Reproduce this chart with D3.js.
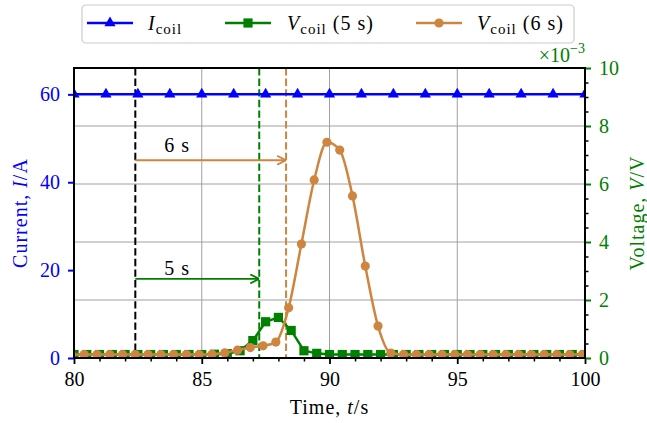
<!DOCTYPE html>
<html>
<head>
<meta charset="utf-8">
<script src="https://cdn.jsdelivr.net/npm/d3@7"></script>
<style>
  body { margin: 0; background: #fff; }
  svg { font-family: "Liberation Serif", "Times New Roman", serif; }
  .lbl { letter-spacing: 1px; }
</style>
</head>
<body>
<div id="chart"></div>
<script>
// coil current, sampled at the marker positions
const tCurrent = [80, 81.25, 82.5, 83.75, 85, 86.25, 87.5, 88.75, 90, 91.25, 92.5, 93.75, 95, 96.25, 97.5, 98.75, 100];
const iCoil = [60, 60, 60, 60, 60, 60, 60, 60, 60, 60, 60, 60, 60, 60, 60, 60, 60];

// coil voltage, 5 s run (units of 1e-3 V)
const tFive = [80, 80.5, 81, 81.5, 82, 82.5, 83, 83.5, 84, 84.5, 85, 85.5, 86, 86.5, 87, 87.5, 88, 88.5, 89, 89.5,
  90, 90.5, 91, 91.5, 92, 92.5, 93, 93.5, 94, 94.5, 95, 95.5, 96, 96.5, 97, 97.5, 98, 98.5, 99, 99.5, 100];
const vFive = [0.12, 0.12, 0.12, 0.12, 0.12, 0.12, 0.12, 0.12, 0.12, 0.12, 0.12, 0.13, 0.15, 0.25, 0.6, 1.25, 1.4, 0.95, 0.25, 0.16,
  0.12, 0.12, 0.12, 0.12, 0.12, 0.12, 0.12, 0.12, 0.12, 0.12, 0.12, 0.12, 0.12, 0.12, 0.12, 0.12, 0.12, 0.12, 0.12, 0.12, 0.12];

// coil voltage, 6 s run (units of 1e-3 V)
const tSix = [79.9, 80.4, 80.9, 81.4, 81.9, 82.4, 82.9, 83.4, 83.9, 84.4, 84.9, 85.4, 85.9, 86.4, 86.9, 87.4, 87.9, 88.4, 88.9, 89.4,
  89.9, 90.4, 90.9, 91.4, 91.9, 92.4, 92.9, 93.4, 93.9, 94.4, 94.9, 95.4, 95.9, 96.4, 96.9, 97.4, 97.9, 98.4, 98.9, 99.4, 99.9, 100.4];
const vSix = [0.12, 0.12, 0.12, 0.12, 0.12, 0.12, 0.12, 0.12, 0.12, 0.12, 0.12, 0.13, 0.18, 0.27, 0.36, 0.42, 0.55, 1.73, 3.93, 6.14,
  7.44, 7.17, 5.59, 3.17, 1.1, 0.17, 0.12, 0.12, 0.12, 0.12, 0.12, 0.12, 0.12, 0.12, 0.12, 0.12, 0.12, 0.12, 0.12, 0.12, 0.12, 0.12];

const xTicks = [80, 85, 90, 95, 100];
const iTicks = [0, 20, 40, 60];
const vTicks = [0, 2, 4, 6, 8, 10];

// delay markers
const tStart = 82.4;
const tEnd5 = 87.25;
const tEnd6 = 88.3;
const arrowI6 = 45, arrowI5 = 18;

const W = 647, H = 423;
const pL = 74, pR = 585, pT = 68, pB = 358;
const blue = '#0000ff', green = '#008000', orange = '#cd853f';

const x = d3.scaleLinear().domain([80, 100]).range([pL, pR]);
const yL = d3.scaleLinear().domain([0, 66]).range([pB, pT]);
const yR = d3.scaleLinear().domain([0, 10]).range([pB, pT]);

const svg = d3.select('#chart').append('svg')
  .attr('width', W).attr('height', H);

const defs = svg.append('defs');
defs.append('clipPath').attr('id', 'plot').append('rect')
  .attr('x', pL).attr('y', pT)
  .attr('width', pR - pL).attr('height', pB - pT);
const marker = (id, color) => defs.append('marker')
  .attr('id', id).attr('viewBox', '0 0 10 10')
  .attr('refX', 10).attr('refY', 5)
  .attr('markerUnits', 'userSpaceOnUse')
  .attr('markerWidth', 9).attr('markerHeight', 10)
  .attr('orient', 'auto')
  .append('path').attr('d', 'M0,0 L10,5 L0,10')
  .attr('fill', 'none').attr('stroke', color).attr('stroke-width', 2);
marker('arr6', orange);
marker('arr5', green);

// grid
const grid = svg.append('g').attr('stroke', '#a0a0a0').attr('stroke-width', 1);
grid.selectAll('.gx').data(xTicks.slice(1, -1)).enter().append('line')
  .attr('x1', d => x(d)).attr('x2', d => x(d)).attr('y1', pT).attr('y2', pB);
grid.selectAll('.gy').data(vTicks.slice(1, -1)).enter().append('line')
  .attr('x1', pL).attr('x2', pR).attr('y1', d => yR(d)).attr('y2', d => yR(d));

const plot = svg.append('g').attr('clip-path', 'url(#plot)');

// vertical dashed markers
[[tStart, '#000'], [tEnd5, green], [tEnd6, orange]].forEach(([t, c]) => {
  plot.append('line')
    .attr('x1', x(t)).attr('x2', x(t)).attr('y1', pT).attr('y2', pB)
    .attr('stroke', c).attr('stroke-width', 2).attr('stroke-dasharray', '7.4,3.2');
});

// current
const curData = tCurrent.map((t, i) => [t, iCoil[i]]);
plot.append('path').datum(curData)
  .attr('d', d3.line().x(d => x(d[0])).y(d => yL(d[1])))
  .attr('fill', 'none').attr('stroke', blue).attr('stroke-width', 2.5);
plot.selectAll('.tri').data(curData).enter().append('path')
  .attr('d', d3.symbol(d3.symbolTriangle, 55))
  .attr('transform', d => `translate(${x(d[0])},${yL(d[1])})`)
  .attr('fill', blue);

// voltage, 5 s
const fiveData = tFive.map((t, i) => [t, vFive[i]]);
plot.append('path').datum(fiveData)
  .attr('d', d3.line().x(d => x(d[0])).y(d => yR(d[1])))
  .attr('fill', 'none').attr('stroke', green).attr('stroke-width', 2.5);
plot.selectAll('.sq').data(fiveData).enter().append('rect')
  .attr('x', d => x(d[0]) - 4.6).attr('y', d => yR(d[1]) - 4.6)
  .attr('width', 9.2).attr('height', 9.2).attr('fill', green);

// voltage, 6 s
const sixData = tSix.map((t, i) => [t, vSix[i]]);
plot.append('path').datum(sixData)
  .attr('d', d3.line().curve(d3.curveMonotoneX).x(d => x(d[0])).y(d => yR(d[1])))
  .attr('fill', 'none').attr('stroke', orange).attr('stroke-width', 2.5);
plot.selectAll('.dot').data(sixData).enter().append('circle')
  .attr('cx', d => x(d[0])).attr('cy', d => yR(d[1])).attr('r', 4.6)
  .attr('fill', orange);

// delay arrows
svg.append('line')
  .attr('x1', x(tStart)).attr('x2', x(tEnd6)).attr('y1', yL(arrowI6)).attr('y2', yL(arrowI6))
  .attr('stroke', orange).attr('stroke-width', 1.8).attr('marker-end', 'url(#arr6)');
svg.append('line')
  .attr('x1', x(tStart)).attr('x2', x(tEnd5)).attr('y1', yL(arrowI5)).attr('y2', yL(arrowI5))
  .attr('stroke', green).attr('stroke-width', 1.8).attr('marker-end', 'url(#arr5)');
svg.append('text').attr('class', 'lbl').attr('x', x(84) + 1).attr('y', yL(46.8))
  .attr('text-anchor', 'middle').attr('font-size', 20).text('6 s');
svg.append('text').attr('class', 'lbl').attr('x', x(84) + 1).attr('y', yL(18.9))
  .attr('text-anchor', 'middle').attr('font-size', 20).text('5 s');

// axes
function style(g, color, w) {
  g.select('.domain').remove();
  g.selectAll('line').attr('stroke', color).attr('stroke-width', w);
  g.selectAll('text').attr('fill', color).attr('font-size', 20)
    .attr('font-family', '"Liberation Serif", serif');
}
const xMinor = d3.range(80, 101).filter(d => d % 5 !== 0);
svg.append('g').attr('transform', `translate(0,${pB})`)
  .call(d3.axisBottom(x).tickValues(xMinor).tickSize(3.5).tickFormat(''))
  .call(g => style(g, '#000', 1.5));
svg.append('g').attr('transform', `translate(0,${pB})`)
  .call(d3.axisBottom(x).tickValues(xTicks).tickSize(6).tickPadding(8).tickFormat(d3.format('d')))
  .call(g => style(g, '#000', 1.8));

svg.append('g').attr('transform', `translate(${pL},0)`)
  .call(d3.axisLeft(yL).tickValues(iTicks).tickSize(6).tickPadding(8))
  .call(g => style(g, blue, 2));

const vMinor = d3.range(0, 10.01, 0.5).filter(d => d % 2 !== 0);
svg.append('g').attr('transform', `translate(${pR},0)`)
  .call(d3.axisRight(yR).tickValues(vMinor).tickSize(3.5).tickFormat(''))
  .call(g => style(g, '#000', 1.5));
svg.append('g').attr('transform', `translate(${pR},0)`)
  .call(d3.axisRight(yR).tickValues(vTicks).tickSize(6).tickPadding(8))
  .call(g => style(g, green, 2));

// spines
svg.append('rect').attr('x', pL).attr('y', pT)
  .attr('width', pR - pL).attr('height', pB - pT)
  .attr('fill', 'none').attr('stroke', '#000').attr('stroke-width', 2);

// axis labels
const xl = svg.append('text').attr('class', 'lbl').attr('x', (pL + pR) / 2).attr('y', 414)
  .attr('text-anchor', 'middle').attr('font-size', 20);
xl.append('tspan').text('Time, ');
xl.append('tspan').attr('font-style', 'italic').text('t');
xl.append('tspan').text('/s');

const yl = svg.append('text').attr('class', 'lbl').attr('transform', `translate(27,${(pT + pB) / 2}) rotate(-90)`)
  .attr('text-anchor', 'middle').attr('font-size', 20).attr('fill', blue);
yl.append('tspan').text('Current, ');
yl.append('tspan').attr('font-style', 'italic').text('I');
yl.append('tspan').text('/A');

const yr = svg.append('text').attr('class', 'lbl').attr('transform', `translate(644,${(pT + pB) / 2}) rotate(-90)`)
  .attr('text-anchor', 'middle').attr('font-size', 20).attr('fill', green);
yr.append('tspan').text('Voltage, ');
yr.append('tspan').attr('font-style', 'italic').text('V');
yr.append('tspan').text('/V');

// offset text
const off = svg.append('text').attr('x', pR).attr('y', 62)
  .attr('text-anchor', 'end').attr('font-size', 20).attr('fill', green);
off.append('tspan').text('×10');
off.append('tspan').attr('font-size', 14).attr('dy', -9).text('−3');

// legend
const lg = svg.append('g');
lg.append('rect').attr('x', 82).attr('y', 5).attr('width', 492).attr('height', 38).attr('rx', 4)
  .attr('fill', '#fff').attr('fill-opacity', 0.8).attr('stroke', '#cccccc').attr('stroke-width', 1.2);
const items = [
  { x0: 87, tx: 148, color: blue, kind: 'tri', suffix: '', sym: 'I' },
  { x0: 225, tx: 287, color: green, kind: 'sq', suffix: '(5 s)', sym: 'V' },
  { x0: 416, tx: 477, color: orange, kind: 'dot', suffix: '(6 s)', sym: 'V' }
];
items.forEach(it => {
  const cy = 23, cx = it.x0 + 23;
  lg.append('line').attr('x1', it.x0).attr('x2', it.x0 + 46).attr('y1', cy).attr('y2', cy)
    .attr('stroke', it.color).attr('stroke-width', 2.5);
  if (it.kind === 'tri') {
    lg.append('path').attr('d', d3.symbol(d3.symbolTriangle, 55))
      .attr('transform', `translate(${cx},${cy})`).attr('fill', it.color);
  } else if (it.kind === 'sq') {
    lg.append('rect').attr('x', cx - 4.6).attr('y', cy - 4.6).attr('width', 9.2).attr('height', 9.2)
      .attr('fill', it.color);
  } else {
    lg.append('circle').attr('cx', cx).attr('cy', cy).attr('r', 4.6).attr('fill', it.color);
  }
  const t = lg.append('text').attr('class', 'lbl').attr('x', it.tx).attr('y', 30).attr('font-size', 20);
  t.append('tspan').attr('font-style', 'italic').text(it.sym);
  t.append('tspan').attr('font-size', 15).attr('dy', 4).text('coil');
  if (it.suffix) t.append('tspan').attr('dy', -4).text('\u00a0' + it.suffix);
});
</script>
</body>
</html>
